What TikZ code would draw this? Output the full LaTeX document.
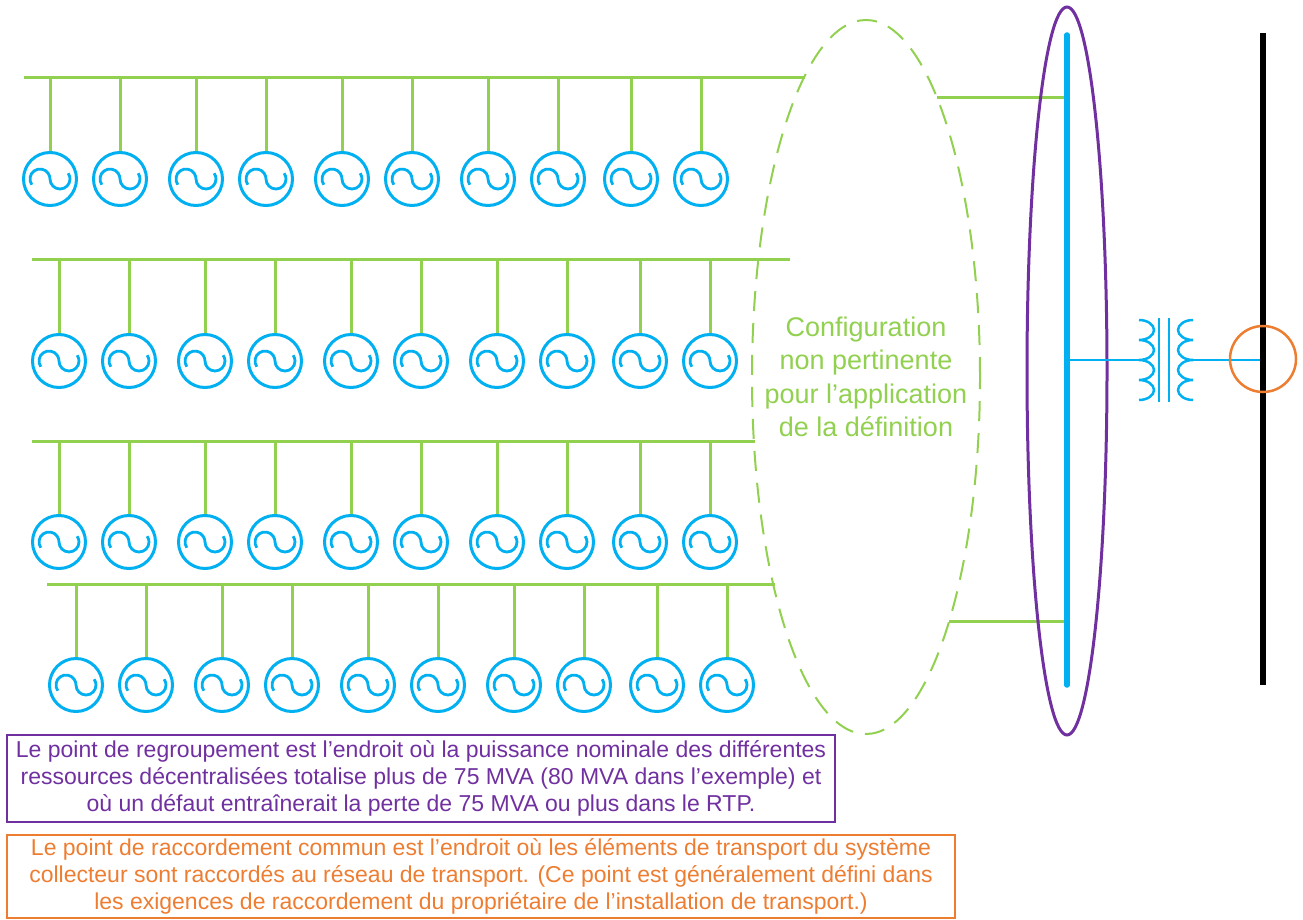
\documentclass[tikz,border=0pt]{standalone}
\usepackage{fontspec}
\setmainfont{Liberation Sans}
\usetikzlibrary{shapes.geometric,calc}
\definecolor{genblue}{RGB}{0,176,240}
\definecolor{busgreen}{RGB}{146,208,80}
\definecolor{grppurple}{RGB}{112,48,160}
\definecolor{pccorange}{RGB}{237,125,49}
\tikzset{
  gen/.style={draw=genblue, circle, line width=3pt, minimum size=53pt, inner sep=0pt},
  feeder/.style={busgreen, line width=3pt},
  wave/.pic={\draw[genblue, line width=2.8pt] (-10,0) ++(215:10) arc (215:0:10) arc (180:395:10);},
  notebox/.style={line width=2.5pt, align=center, inner sep=0pt, font=\fontsize{23}{27}\selectfont}
}
\begin{document}
\begin{tikzpicture}[x=1pt,y=1pt]
\useasboundingbox (0,0) rectangle (1303,-920);
% collector feeders
\foreach \r/\xa/\xb/\y in {1/24/805/78, 2/32/790/259, 3/32/755/441, 4/47/775/584}{
  \coordinate (b\r) at (\xa,-\y);
  \coordinate (e\r) at (\xb,-\y);
  \draw[feeder] (b\r) -- (e\r);
}
% generators
\foreach \r/\x/\y in {1/50/179, 2/59/361, 3/59/542, 4/76/685}{
  \foreach \d [count=\i] in {0,70,146,216,292,362,438,508,581,651}{
    \node[gen] (g\r-\i) at (\x+\d,-\y) {};
    \pic at (g\r-\i) {wave};
    \draw[feeder] (g\r-\i.north) -- (g\r-\i.north |- b\r);
  }
}
% zone not relevant
\node[ellipse, draw=busgreen, line width=2pt, dash pattern=on 20pt off 12pt,
  minimum width=228pt, minimum height=714pt, inner sep=0pt] (cfg) at (866,-377) {};
\node[text=busgreen, align=center, font=\fontsize{27}{33.5}\selectfont] (cfgtxt) at (cfg.center)
  {Configuration\\non pertinente\\pour l’application\\de la définition};
\coordinate (cfgne) at ($(cfg.center)+(71,279)$);
\coordinate (cfgse) at ($(cfg.center)+(83,-244)$);
% grouping bus
\coordinate (bt) at (1067,-35);
\coordinate (bb) at (1067,-685);
\draw[feeder] (cfgne) -- (cfgne -| bt);
\draw[feeder] (cfgse) -- (cfgse -| bt);
\draw[genblue, line width=5.5pt, line cap=round] (bt) -- (bb);
\draw[grppurple, line width=3pt] (1067,-371) ellipse (40 and 364);
% transformer
\coordinate (tl) at (1139,-360);
\coordinate (tr) at (1193,-360);
\coordinate (rt) at (1263,-33);
\coordinate (rb) at (1263,-685);
\draw[genblue, line width=2.5pt] (tl -| bt) -- (tl);
\draw[genblue, line width=2.5pt] (tr) -- (tr -| rt);
\draw[genblue, line width=2.5pt] (1139,-320) arc (90:-90:15 and 10) arc (90:-90:15 and 10)
  arc (90:-90:15 and 10) arc (90:-90:15 and 10);
\draw[genblue, line width=2.5pt] (1193,-320) arc (90:270:15 and 10) arc (90:270:15 and 10)
  arc (90:270:15 and 10) arc (90:270:15 and 10);
\draw[genblue, line width=2.5pt] (1159,-318) -- (1159,-402);
\draw[genblue, line width=2.5pt] (1169,-318) -- (1169,-402);
% transmission bus
\draw[black, line width=6pt] (rt) -- (rb);
\node[circle, draw=pccorange, line width=2.5pt, minimum size=66pt, inner sep=0pt] (pcc) at (1263,-359) {};
% notes
\node[notebox, draw=grppurple, text=grppurple, minimum width=828pt, minimum height=87pt] (grp) at (421,-778.5)
  {Le point de regroupement est l’endroit où la puissance nominale des différentes\\
   ressources décentralisées totalise plus de 75 MVA (80 MVA dans l’exemple) et\\
   où un défaut entraînerait la perte de 75 MVA ou plus dans le RTP.};
\node[notebox, line width=2pt, draw=pccorange, text=pccorange, minimum width=948pt, minimum height=83pt] (pccnote) at (481,-876.5)
  {Le point de raccordement commun est l’endroit où les éléments de transport du système\\
   collecteur sont raccordés au réseau de transport. (Ce point est généralement défini dans\\
   les exigences de raccordement du propriétaire de l’installation de transport.)};
\end{tikzpicture}
\end{document}
